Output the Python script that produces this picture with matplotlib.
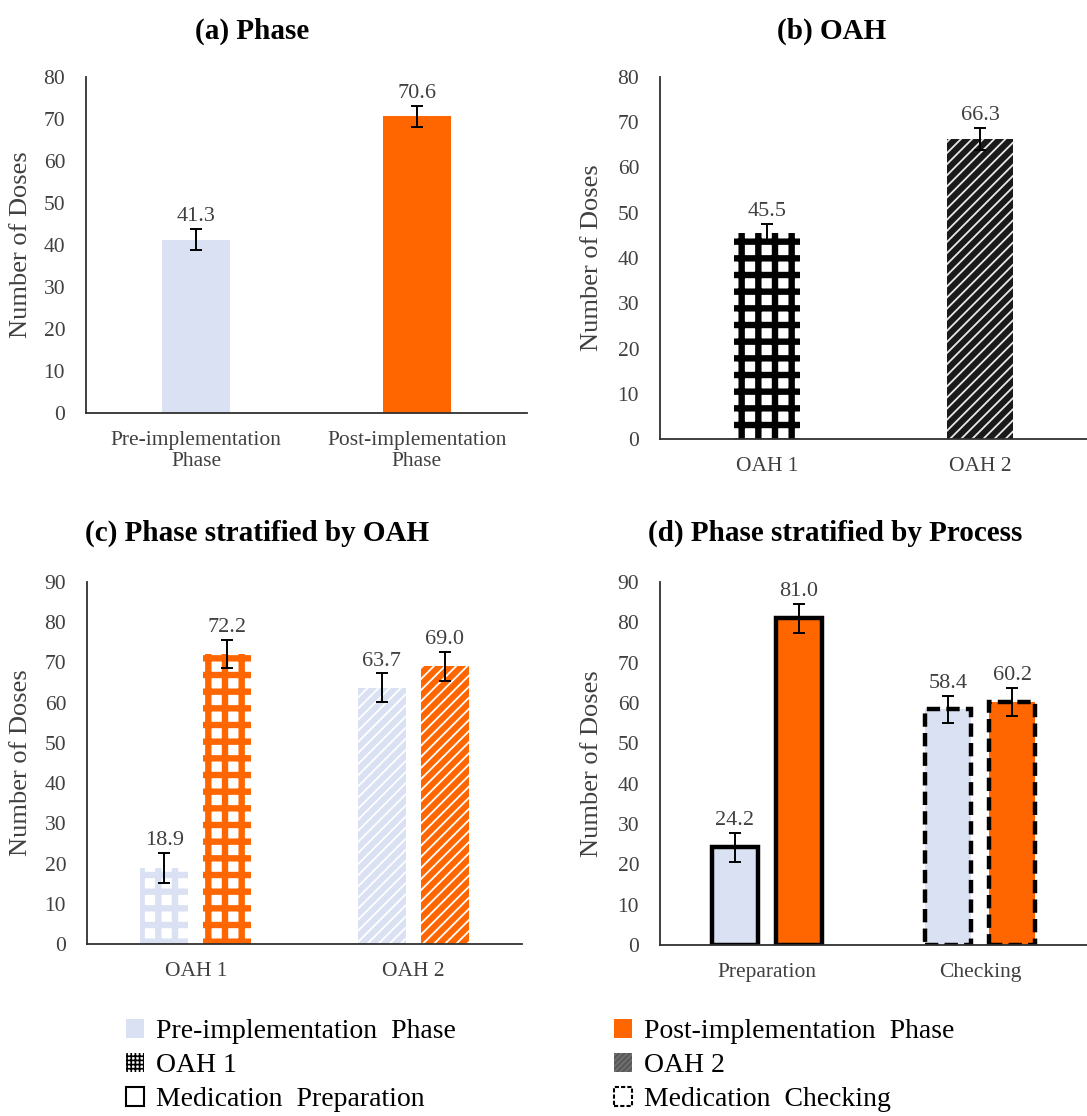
import matplotlib
matplotlib.use("Agg")
import matplotlib.pyplot as plt
from matplotlib.patches import Patch
from matplotlib.font_manager import FontProperties
import numpy as np

plt.rcParams['font.family'] = ['Liberation Serif', 'DejaVu Serif']

# ---------------- data ----------------
phase_labels = ['Pre-implementation\nPhase', 'Post-implementation\nPhase']
phase_means = [41.3, 70.6]
phase_err = [2.5, 2.6]

oah_labels = ['OAH 1', 'OAH 2']
oah_means = [45.5, 66.3]
oah_err = [2.1, 2.4]

c_labels = ['OAH 1', 'OAH 2']
c_pre = [18.9, 63.7]
c_pre_err = [3.7, 3.6]
c_post = [72.2, 69.0]
c_post_err = [3.5, 3.6]

d_labels = ['Preparation', 'Checking']
d_pre = [24.2, 58.4]
d_pre_err = [3.6, 3.4]
d_post = [81.0, 60.2]
d_post_err = [3.6, 3.5]

legend_labels = ['Pre-implementation  Phase', 'Post-implementation  Phase',
                 'OAH 1', 'OAH 2',
                 'Medication  Preparation', 'Medication  Checking']

PRE = '#DAE1F3'
POST = '#FF6600'
TXT = '#404040'

W, H = 1087, 1116
fig = plt.figure(figsize=(W / 100, H / 100), dpi=100)


def ax_at(l, t, r, b):
    return fig.add_axes([l / W, 1 - b / H, (r - l) / W, (b - t) / H])


def style(ax, ymax, labelx):
    ax.set_ylim(0, ymax)
    ax.set_xlim(-0.5, 1.5)
    ax.set_yticks(np.arange(0, ymax + 1, 10))
    for s in ['top', 'right']:
        ax.spines[s].set_visible(False)
    for s in ['left', 'bottom']:
        ax.spines[s].set_color('#303030')
        ax.spines[s].set_linewidth(1.3)
    ax.tick_params(axis='y', length=0, pad=15, labelsize=15.5, labelcolor=TXT)
    ax.tick_params(axis='x', length=0, pad=13, labelsize=15.5, labelcolor=TXT)
    ax.set_ylabel('Number of Doses', fontsize=19, color=TXT)
    ax.yaxis.set_label_coords(labelx, 0.5)


def hatch_bar(ax, x, h, width, face, hcolor, hatch, hlw, **kw):
    old = plt.rcParams['hatch.linewidth']
    plt.rcParams['hatch.linewidth'] = hlw
    bars = ax.bar(x, h, width, color=face, edgecolor=hcolor, hatch=hatch, linewidth=0, **kw)
    for b in bars:
        if hasattr(b, 'set_hatch_linewidth'):
            b.set_hatch_linewidth(hlw)
    plt.rcParams['hatch.linewidth'] = old
    return bars


def errs(ax, x, y, e):
    ax.errorbar(x, y, yerr=e, fmt='none', ecolor='black', elinewidth=1.4,
                capsize=4.5, capthick=1.4, zorder=5)
    for xi, yi, ei in zip(x, y, e):
        ax.annotate(f'{yi:.1f}', (xi, yi + ei), xytext=(0, 2), textcoords='offset points',
                    ha='center', va='bottom', fontsize=16, color=TXT)


# ---------------- (a) ----------------
axa = ax_at(86, 77, 527, 413)
xa = np.arange(len(phase_labels))
axa.bar(xa, phase_means, 0.31, color=[PRE, POST], linewidth=0)
errs(axa, xa, phase_means, phase_err)
axa.set_xticks(xa)
axa.set_xticklabels(phase_labels, linespacing=1.15)
style(axa, 80, -0.122)

# ---------------- (b) ----------------
axb = ax_at(660, 77, 1087, 439)
xb = np.arange(len(oah_labels))
hatch_bar(axb, xb[0], oah_means[0], 0.31, 'white', 'black', '+', 4.6)
hatch_bar(axb, xb[1], oah_means[1], 0.31, '#1a1a1a', '#e8e8e8', '///', 1.3)
errs(axb, xb, oah_means, oah_err)
axb.set_xticks(xb)
axb.set_xticklabels(oah_labels)
style(axb, 80, -0.133)

# ---------------- (c) ----------------
axc = ax_at(87, 582, 522, 944)
xc = np.arange(len(c_labels))
off, bw = 0.145, 0.22
hatch_bar(axc, xc[0] - off, c_pre[0], bw, 'white', PRE, '+', 4.6)
hatch_bar(axc, xc[0] + off, c_post[0], bw, 'white', POST, '+', 4.6)
hatch_bar(axc, xc[1] - off, c_pre[1], bw, PRE, 'white', '///', 1.3)
hatch_bar(axc, xc[1] + off, c_post[1], bw, POST, 'white', '///', 1.3)
errs(axc, xc - off, c_pre, c_pre_err)
errs(axc, xc + off, c_post, c_post_err)
axc.set_xticks(xc)
axc.set_xticklabels(c_labels)
style(axc, 90, -0.126)

# ---------------- (d) ----------------
axd = ax_at(660, 582, 1087, 945)
xd = np.arange(len(d_labels))
off_d, bw_d = 0.15, 0.215
dash = (0, (3, 1.4))
axd.bar(xd[0] - off_d, d_pre[0], bw_d, color=PRE, edgecolor='black', linewidth=3.2)
axd.bar(xd[0] + off_d, d_post[0], bw_d, color=POST, edgecolor='black', linewidth=3.2)
axd.bar(xd[1] - off_d, d_pre[1], bw_d, color=PRE, edgecolor='black', linewidth=3.2, linestyle=dash)
axd.bar(xd[1] + off_d, d_post[1], bw_d, color=POST, edgecolor='black', linewidth=3.2, linestyle=dash)
errs(axd, xd - off_d, d_pre, d_pre_err)
errs(axd, xd + off_d, d_post, d_post_err)
axd.set_xticks(xd)
axd.set_xticklabels(d_labels)
style(axd, 90, -0.133)

# ---------------- titles ----------------
for txt, x, y in [('(a) Phase', 252, 31), ('(b) OAH', 832, 31),
                  ('(c) Phase stratified by OAH', 257, 533),
                  ('(d) Phase stratified by Process', 835, 533)]:
    fig.text(x / W, 1 - y / H, txt, ha='center', va='center', fontsize=21,
             fontweight='bold', color='black')

# ---------------- legend ----------------
def mk_patch(face, edge, hatch=None, lw=0.0, ls='-'):
    return Patch(facecolor=face, edgecolor=edge, hatch=hatch, linewidth=lw, linestyle=ls)

plt.rcParams['hatch.linewidth'] = 1.2
h_pre = mk_patch(PRE, PRE)
h_post = mk_patch(POST, POST)
h_oah1 = mk_patch('white', 'black', '++++')
h_oah2 = mk_patch('#6e6e6e', '#555555', '//////')
h_prep = mk_patch('white', 'black', lw=1.5)
h_chk = mk_patch('white', 'black', lw=1.5, ls=(0, (2, 1)))

legfont = FontProperties(family='Liberation Serif', size=20)
common = dict(loc='upper left', frameon=False, prop=legfont,
              handlelength=0.66, handleheight=0.66, handletextpad=0.42,
              labelspacing=0.32, borderpad=0, borderaxespad=0)
leg1 = fig.legend([h_pre, h_oah1, h_prep],
                  [legend_labels[0], legend_labels[2], legend_labels[4]],
                  bbox_to_anchor=(126 / W, 1 - 1019 / H), **common)
leg2 = fig.legend([h_post, h_oah2, h_chk],
                  [legend_labels[1], legend_labels[3], legend_labels[5]],
                  bbox_to_anchor=(614 / W, 1 - 1019 / H), **common)
for lg in (leg1, leg2):
    for t in lg.get_texts():
        t.set_fontproperties(legfont)
        t.set_color('black')

fig.savefig('out.png', dpi=100)
